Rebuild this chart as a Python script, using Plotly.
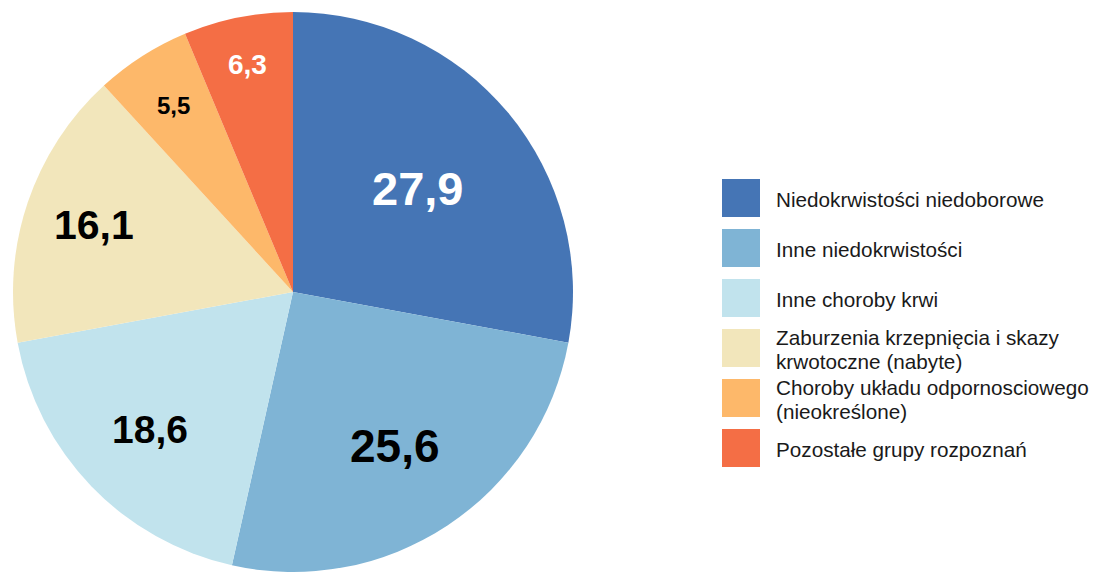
import math
import plotly.graph_objects as go

# ---- data ----
labels = [
    "Niedokrwistości niedoborowe",
    "Inne niedokrwistości",
    "Inne choroby krwi",
    "Zaburzenia krzepnięcia i skazy<br>krwotoczne (nabyte)",
    "Choroby układu odpornosciowego<br>(nieokreślone)",
    "Pozostałe grupy rozpoznań",
]
values = [27.9, 25.6, 18.6, 16.1, 5.5, 6.3]
value_text = ["27,9", "25,6", "18,6", "16,1", "5,5", "6,3"]

# ---- styles ----
colors = ["#4575B5", "#7FB4D5", "#C1E3ED", "#F2E6BB", "#FDB86A", "#F46E45"]
label_colors = ["white", "black", "black", "black", "black", "white"]
label_sizes = [47, 46, 39, 41, 24, 28]
label_radius = [0.58, 0.66, 0.71, 0.75, 0.79, 0.83]

W, H = 1093, 572
FONT = "Liberation Sans, Arial, sans-serif"

# pie geometry (pixels)
px_left, px_right, px_top, px_bottom = 13, 573, 12, 572
cx = (px_left + px_right) / 2
cy = (px_top + px_bottom) / 2
R = (px_right - px_left) / 2

fig = go.Figure(
    go.Pie(
        labels=labels,
        values=values,
        sort=False,
        direction="clockwise",
        rotation=0,
        textinfo="none",
        hoverinfo="label+value",
        marker=dict(colors=colors, line=dict(width=0)),
        domain=dict(x=[px_left / W, px_right / W], y=[1 - px_bottom / H, 1 - px_top / H]),
        showlegend=False,
    )
)

annotations = []
shapes = []
total = sum(values)
cum = 0.0
for i, v in enumerate(values):
    mid = (cum + v / 2) / total * 2 * math.pi
    cum += v
    r = label_radius[i] * R
    x_px = cx + r * math.sin(mid)
    y_px = cy - r * math.cos(mid)
    annotations.append(dict(
        x=x_px / W, y=1 - y_px / H, xref="paper", yref="paper",
        text=value_text[i], showarrow=False, xanchor="center", yanchor="middle",
        font=dict(family=FONT, size=label_sizes[i], color=label_colors[i], weight="bold"),
    ))

# custom legend
leg_x0, leg_y0, sq, step, line_h = 722, 179, 38, 50, 24
for i, lab in enumerate(labels):
    top = leg_y0 + i * step
    shapes.append(dict(
        type="rect", xref="paper", yref="paper",
        x0=leg_x0 / W, x1=(leg_x0 + sq) / W,
        y0=1 - (top + sq) / H, y1=1 - top / H,
        fillcolor=colors[i], line=dict(width=0),
    ))
    lines = lab.split("<br>")
    n = len(lines)
    for j, ln in enumerate(lines):
        yc = top + sq / 2 + 1 + (j - (n - 1) / 2) * line_h
        annotations.append(dict(
            x=774 / W, y=1 - yc / H, xref="paper", yref="paper",
            text=ln, showarrow=False, xanchor="left", yanchor="middle", align="left",
            font=dict(family=FONT, size=20.7, color="#1a1a1a"),
        ))

fig.update_layout(
    width=W, height=H,
    margin=dict(l=0, r=0, t=0, b=0),
    paper_bgcolor="white", plot_bgcolor="white",
    annotations=annotations, shapes=shapes,
    font=dict(family=FONT),
)

fig.write_html(
    "out.html",
    config={"displayModeBar": False},
    post_script="document.body.style.margin='0';document.body.style.overflow='hidden';",
)
